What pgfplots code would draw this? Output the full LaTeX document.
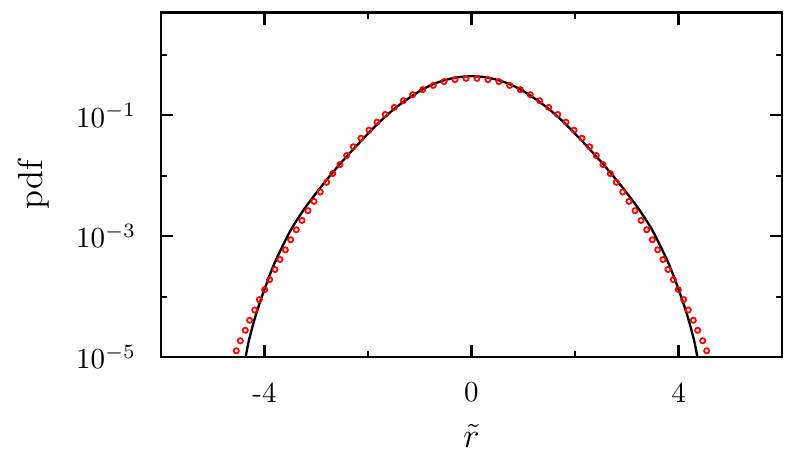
\documentclass[border=0pt]{standalone}
\usepackage{pgfplots}
\pgfplotsset{compat=1.18}
\usepackage{pgfplotstable}

\pgfplotstableread{
x y
-4.545 1.271e-5
-4.468 1.862e-5
-4.371 2.773e-5
-4.286 4.064e-5
-4.189 6.012e-5
-4.100 8.913e-5
-3.996 1.306e-4
-3.900 1.914e-4
-3.797 2.805e-4
-3.700 4.111e-4
-3.598 5.943e-4
-3.494 8.710e-4
-3.386 1.276e-3
-3.275 1.820e-3
-3.159 2.636e-3
-3.043 3.758e-3
-2.922 5.383e-3
-2.798 7.780e-3
-2.682 1.084e-2
-2.541 1.528e-2
-2.412 2.153e-2
-2.284 3.006e-2
-2.135 4.169e-2
-1.981 5.662e-2
-1.826 7.691e-2
-1.666 0.1030
-1.492 0.1346
-1.318 0.1738
-1.136 0.2188
-0.943 0.2649
-0.738 0.3119
-0.531 0.3597
-0.319 0.3882
-0.106 0.4074
0.106 0.4074
0.319 0.3882
0.531 0.3597
0.738 0.3119
0.943 0.2649
1.136 0.2188
1.318 0.1738
1.492 0.1346
1.666 0.1030
1.826 7.691e-2
1.981 5.662e-2
2.135 4.169e-2
2.284 3.006e-2
2.412 2.153e-2
2.541 1.528e-2
2.682 1.084e-2
2.798 7.780e-3
2.922 5.383e-3
3.043 3.758e-3
3.159 2.636e-3
3.275 1.820e-3
3.386 1.276e-3
3.494 8.710e-4
3.598 5.943e-4
3.700 4.111e-4
3.797 2.805e-4
3.900 1.914e-4
3.996 1.306e-4
4.100 8.913e-5
4.189 6.012e-5
4.286 4.064e-5
4.371 2.773e-5
4.468 1.862e-5
4.545 1.271e-5
}\dots

\pgfplotstableread{
x y
-4.42 5.62e-6
-4.365 1.0e-5
-4.30 1.905e-5
-4.20 3.981e-5
-4.10 7.516e-5
-4.00 1.321e-4
-3.875 2.57e-4
-3.75 4.56e-4
-3.50 1.227e-3
-3.25 2.667e-3
-3.00 5.18e-3
-2.75 9.60e-3
-2.50 1.714e-2
-2.25 2.944e-2
-2.00 4.955e-2
-1.75 8.13e-2
-1.50 0.1259
-1.25 0.1820
-1.00 0.2512
-0.75 0.3236
-0.50 0.3846
-0.25 0.4266
0.00 0.4416
0.25 0.4266
0.50 0.3846
0.75 0.3236
1.00 0.2512
1.25 0.1820
1.50 0.1259
1.75 8.13e-2
2.00 4.955e-2
2.25 2.944e-2
2.50 1.714e-2
2.75 9.60e-3
3.00 5.18e-3
3.25 2.667e-3
3.50 1.227e-3
3.75 4.56e-4
3.875 2.57e-4
4.00 1.321e-4
4.10 7.516e-5
4.20 3.981e-5
4.30 1.905e-5
4.365 1.0e-5
4.42 5.62e-6
}\curve

\begin{document}
\begin{tikzpicture}
\begin{axis}[
  name=ax,
  scale only axis,
  width=214.1pt, height=118.8pt,
  ymode=log,
  xmin=-6, xmax=6,
  ymin=1e-5, ymax=5,
  xtick={-4,0,4},
  xticklabels={\textrm{-4},0,4},
  minor xtick={-2,2},
  ytick={1e-5,1e-3,1e-1},
  minor ytick={1e-4,1e-2,1},
  tick pos=both,
  tick align=inside,
  major tick length=4.2pt,
  minor tick length=2.2pt,
  axis line style={line width=0.7pt},
  every tick/.style={line width=0.7pt, black},
  xticklabel style={yshift=-5.2pt},
  yticklabel style={xshift=-5pt},
  xlabel={$\tilde{r}$},
  ylabel={pdf},
  xlabel style={font=\large, at={(axis description cs:0.5,-0.228)}, anchor=center},
  ylabel style={font=\large, at={(axis description cs:-0.2045,0.5)}, anchor=center},
  clip=true,
]
\addplot[only marks, mark=o, mark size=0.9pt, red, mark options={line width=0.6pt}] table[x=x,y=y] {\dots};
\addplot[black, line width=0.8pt, smooth, tension=0.5] table[x=x,y=y] {\curve};
\end{axis}
\pgfresetboundingbox
\path[use as bounding box] ([shift={(-55.5pt,-34.8pt)}]ax.south west) rectangle ([shift={(4.48pt,4.31pt)}]ax.north east);
\end{tikzpicture}
\end{document}
